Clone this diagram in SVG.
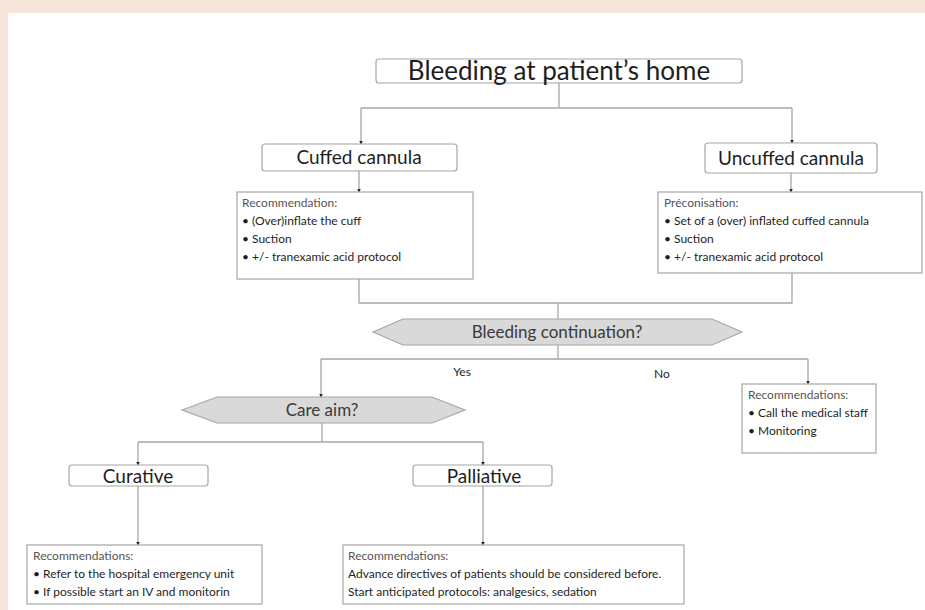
<svg xmlns="http://www.w3.org/2000/svg" width="925" height="610" viewBox="0 0 925 610">
<defs>
<marker id="arr" markerWidth="4" markerHeight="4" refX="3.5" refY="2" orient="auto" markerUnits="userSpaceOnUse">
<path d="M0,0 L4,2 L0,4 z" fill="#222"/>
</marker>
<style>
.bg{fill:#f7e4da}
.box{fill:#fff;stroke:#a6a6a6;stroke-width:1.2}
.hex{fill:#d9d9d9;stroke:#a6a6a6;stroke-width:1.2}
.ln{fill:none;stroke:#a6a6a6;stroke-width:1.3}
.t{font-family:Lato,"Open Sans","Liberation Sans",sans-serif;fill:#1e1e1e}
.big{font-size:26px}
.mid{font-size:19px}
.q{font-size:17px;fill:#3a3a3a}
.s{font-size:12px}
.h{font-size:12px;fill:#555}
</style>
</defs>
<rect class="bg" x="0" y="0" width="925" height="610"/>
<rect x="8" y="13" width="917" height="597" fill="#fff"/>

<g id="connectors">
<polyline class="ln" points="559,83 559,108"/>
<polyline class="ln" points="361,108 792,108"/>
<polyline class="ln" points="361,108 361,144" marker-end="url(#arr)"/>
<polyline class="ln" points="792,108 792,143" marker-end="url(#arr)"/>
<polyline class="ln" points="359,171 359,192" marker-end="url(#arr)"/>
<polyline class="ln" points="791,173 791,192" marker-end="url(#arr)"/>
<polyline class="ln" points="359,279 359,303 792,303 792,273"/>
<polyline class="ln" points="558,303 558,319"/>
<polyline class="ln" points="558,345 558,359"/>
<polyline class="ln" points="321,359 808,359"/>
<polyline class="ln" points="321,359 321,397" marker-end="url(#arr)"/>
<polyline class="ln" points="808,359 808,384" marker-end="url(#arr)"/>
<polyline class="ln" points="322,423 322,442"/>
<polyline class="ln" points="138,442 483,442"/>
<polyline class="ln" points="138,442 138,465" marker-end="url(#arr)"/>
<polyline class="ln" points="483,442 483,465" marker-end="url(#arr)"/>
<polyline class="ln" points="138,486 138,545" marker-end="url(#arr)"/>
<polyline class="ln" points="483,486 483,545" marker-end="url(#arr)"/>
<text class="t s" x="462" y="376" text-anchor="middle">Yes</text>
<text class="t s" x="662" y="378" text-anchor="middle">No</text>
</g>

<g id="title">
<rect class="box" x="376" y="59" width="366" height="24" rx="3"/>
<text class="t big" x="559" y="80" text-anchor="middle">Bleeding at patient’s home</text>
</g>

<g id="cuffed">
<rect class="box" x="262" y="144" width="195" height="27" rx="3"/>
<text class="t mid" x="359" y="164" text-anchor="middle">Cuffed cannula</text>
</g>

<g id="uncuffed">
<rect class="box" x="705" y="143" width="172" height="30" rx="3"/>
<text class="t mid" x="791" y="165" text-anchor="middle">Uncuffed cannula</text>
</g>

<g id="rec-cuffed">
<rect class="box" x="237" y="192" width="236" height="87"/>
<text class="t h" x="242" y="207">Recommendation:</text>
<text class="t s" x="242" y="225">• (Over)inflate the cuff</text>
<text class="t s" x="242" y="243">• Suction</text>
<text class="t s" x="242" y="261">• +/- tranexamic acid protocol</text>
</g>

<g id="rec-uncuffed">
<rect class="box" x="658" y="192" width="264" height="81"/>
<text class="t h" x="664" y="207">Préconisation:</text>
<text class="t s" x="664" y="225">• Set of a (over) inflated cuffed cannula</text>
<text class="t s" x="664" y="243">• Suction</text>
<text class="t s" x="664" y="261">• +/- tranexamic acid protocol</text>
</g>

<g id="continuation">
<polygon class="hex" points="373,332 403,319 712,319 742,332 712,345 403,345"/>
<text class="t q" x="557" y="338" text-anchor="middle">Bleeding continuation?</text>
</g>

<g id="rec-no">
<rect class="box" x="742" y="384" width="134" height="69"/>
<text class="t h" x="748" y="399">Recommendations:</text>
<text class="t s" x="748" y="417">• Call the medical staff</text>
<text class="t s" x="748" y="435">• Monitoring</text>
</g>

<g id="careaim">
<polygon class="hex" points="182,410 217,397 432,397 465,410 432,423 217,423"/>
<text class="t q" x="322" y="416" text-anchor="middle">Care aim?</text>
</g>

<g id="curative">
<rect class="box" x="69" y="465" width="139" height="21" rx="3"/>
<text class="t mid" x="138" y="483" text-anchor="middle">Curative</text>
</g>

<g id="palliative">
<rect class="box" x="413" y="465" width="139" height="21" rx="3"/>
<text class="t mid" x="484" y="483" text-anchor="middle">Palliative</text>
</g>

<g id="rec-curative">
<rect class="box" x="27" y="545" width="235" height="59"/>
<text class="t h" x="33" y="560">Recommendations:</text>
<text class="t s" x="33" y="578">• Refer to the hospital emergency unit</text>
<text class="t s" x="33" y="596">• If possible start an IV and monitorin</text>
</g>

<g id="rec-palliative">
<rect class="box" x="343" y="545" width="341" height="59"/>
<text class="t h" x="348" y="560">Recommendations:</text>
<text class="t s" x="348" y="578">Advance directives of patients should be considered before.</text>
<text class="t s" x="348" y="596">Start anticipated protocols: analgesics, sedation</text>
</g>
</svg>
